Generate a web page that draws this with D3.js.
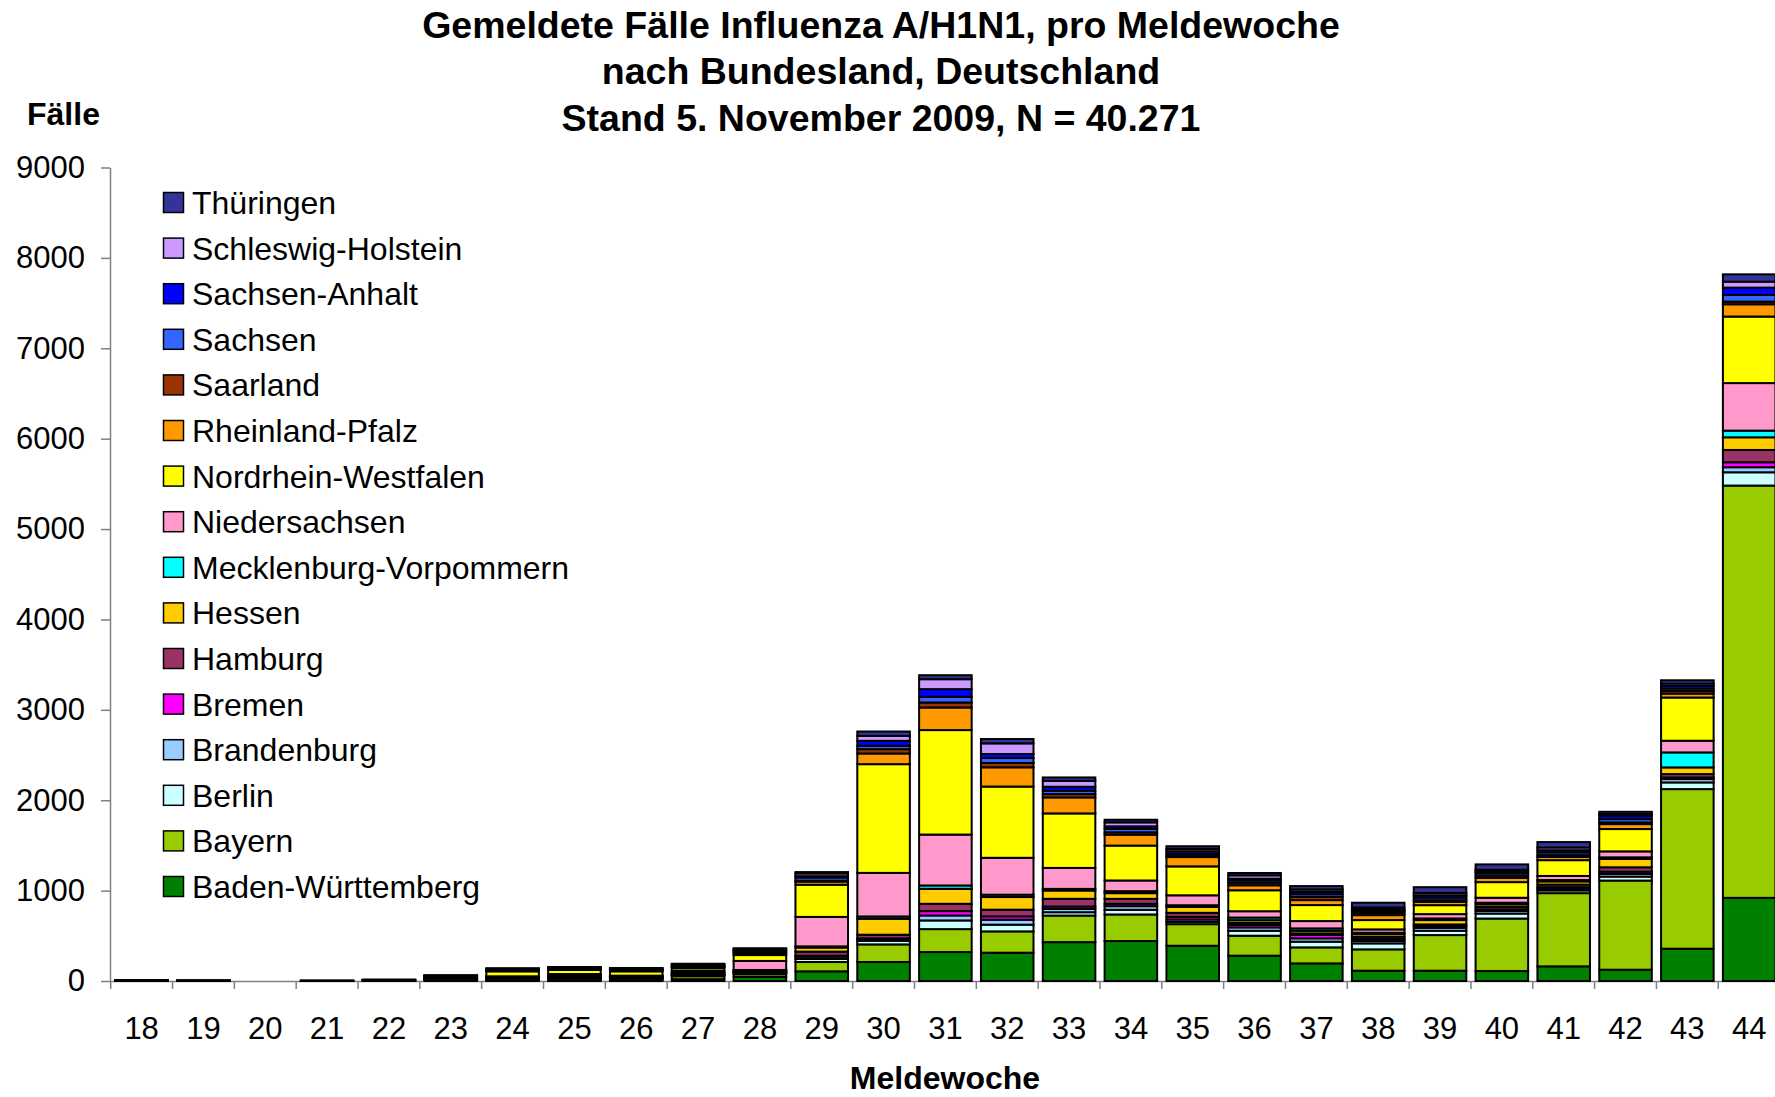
<!DOCTYPE html>
<html><head><meta charset="utf-8">
<script src="https://cdn.jsdelivr.net/npm/d3@7"></script>
<style>
body{margin:0;background:#fff;overflow:hidden}
svg{display:block}
text{font-family:"Liberation Sans",Arial,Helvetica,sans-serif;fill:#000}
</style>
</head><body>
<svg id="chart" width="1775" height="1097"></svg>
<script>
// ---- Data ----
const weeks = [18,19,20,21,22,23,24,25,26,27,28,29,30,31,32,33,34,35,36,37,38,39,40,41,42,43,44];
const states = ["Baden-Württemberg","Bayern","Berlin","Brandenburg","Bremen","Hamburg","Hessen",
  "Mecklenburg-Vorpommern","Niedersachsen","Nordrhein-Westfalen","Rheinland-Pfalz","Saarland",
  "Sachsen","Sachsen-Anhalt","Schleswig-Holstein","Thüringen"];
const colors = ["#008000","#99CC00","#CCFFFF","#99CCFF","#FF00FF","#993366","#FFCC00",
  "#00FFFF","#FF99CC","#FFFF00","#FF9900","#993300","#3366FF","#0000FF","#CC99FF","#333399"];

const badenWuerttemberg = [2,0,0,0,3,8,10,15,12,20,45,107,210,320,313,430,442,390,280,195,114,114,110,162,125,357,920];
const bayern            = [3,2,0,2,3,8,10,15,12,33,30,103,195,254,236,294,294,239,221,177,236,394,581,810,986,1766,4561];
const berlin            = [1,1,0,0,2,6,8,10,8,10,12,35,40,96,74,37,52,26,55,63,66,48,55,30,44,74,147];
const brandenburg       = [0,0,0,0,0,2,3,5,4,6,8,25,20,55,55,37,40,26,37,37,26,33,29,20,29,37,56];
const bremen            = [0,0,0,0,0,1,2,2,2,2,3,10,7,48,37,26,26,29,29,37,22,22,18,15,26,18,55];
const hamburg           = [1,1,0,0,2,6,8,10,8,10,12,45,40,81,74,85,55,44,22,18,26,15,26,30,48,37,136];
const hessen            = [1,1,0,1,2,6,5,10,6,12,9,45,177,166,140,92,63,66,29,29,29,48,29,35,92,74,140];
const mecklenburgVp     = [0,0,0,0,0,1,1,2,1,2,3,13,25,37,26,18,22,18,29,26,15,18,18,15,18,166,74];
const niedersachsen     = [1,0,0,0,0,4,5,8,6,20,100,326,482,563,408,232,118,110,70,81,37,48,55,45,66,129,526];
const nordrheinWf       = [2,2,0,2,4,10,55,45,48,28,65,356,1203,1156,788,603,386,320,232,177,103,99,173,175,247,478,736];
const rheinlandPfalz    = [0,0,0,0,0,4,10,12,12,14,22,35,118,250,213,177,121,103,55,55,55,37,48,35,55,44,136];
const saarland          = [0,0,0,0,0,1,2,2,2,3,6,10,48,55,48,37,26,18,29,37,26,18,26,20,18,29,29];
const sachsen           = [0,0,0,0,0,2,8,8,8,10,18,35,37,63,55,37,37,18,26,29,22,29,26,30,37,26,74];
const sachsenAnhalt     = [0,0,0,0,0,1,3,3,4,5,7,15,55,85,44,44,29,29,18,26,15,26,22,25,37,29,81];
const schleswigHolstein = [0,0,0,0,0,2,8,6,8,12,16,30,55,110,118,66,44,26,37,26,22,26,15,30,18,26,66];
const thueringen        = [0,0,0,0,0,0,2,2,3,4,6,15,48,44,48,37,29,29,26,37,52,63,59,60,26,37,81];

const seriesValues = [badenWuerttemberg,bayern,berlin,brandenburg,bremen,hamburg,hessen,
  mecklenburgVp,niedersachsen,nordrheinWf,rheinlandPfalz,saarland,sachsen,sachsenAnhalt,
  schleswigHolstein,thueringen];

const yTicks = [0,1000,2000,3000,4000,5000,6000,7000,8000,9000];
const titleLines = ["Gemeldete Fälle Influenza A/H1N1, pro Meldewoche",
                    "nach Bundesland, Deutschland",
                    "Stand 5. November 2009, N = 40.271"];
const yLabel = "Fälle";
const xLabel = "Meldewoche";

// ---- Build table ----
const table = weeks.map((w,i)=>{
  const row = {week:w};
  states.forEach((s,j)=>{ row[s] = seriesValues[j][i]; });
  return row;
});

const svg = d3.select("#chart");
const axisColor = "#808080";

const x = d3.scaleBand().domain(weeks).range([110.7, 1780.1]).paddingInner(0.15).paddingOuter(0.075);
const y = d3.scaleLinear().domain([0,9000]).range([981,167.5]);

const stack = d3.stack().keys(states);
const layers = stack(table);

// ---- Axes ----
const yAxis = svg.append("g").attr("transform","translate(110,0)")
  .call(d3.axisLeft(y).tickValues(yTicks).tickFormat(d3.format("d")).tickSize(9).tickSizeOuter(0).tickPadding(16));
yAxis.select(".domain").attr("stroke",axisColor).attr("stroke-width",1.5);
yAxis.selectAll(".tick line").attr("stroke",axisColor).attr("stroke-width",1.5);
yAxis.selectAll(".tick text").attr("font-size",31).attr("font-family","Liberation Sans, Arial, sans-serif").attr("fill","#000");

const xAxis = svg.append("g").attr("transform","translate(0,981)")
  .call(d3.axisBottom(x).tickSize(0).tickSizeOuter(0));
xAxis.select(".domain").attr("stroke",axisColor).attr("stroke-width",1.5);
xAxis.selectAll(".tick text").attr("font-size",31).attr("font-family","Liberation Sans, Arial, sans-serif")
  .attr("fill","#000").attr("y",58).attr("dy",0);
const half = (x.step()-x.bandwidth())/2;
svg.append("g").selectAll("line").data(weeks).join("line")
  .attr("x1",d=>x(d)-half).attr("x2",d=>x(d)-half)
  .attr("y1",981).attr("y2",989)
  .attr("stroke",axisColor).attr("stroke-width",1.5);

// ---- Bars ----
const barG = svg.append("g");
layers.forEach((layer,j)=>{
  barG.append("g").attr("fill",colors[j])
    .selectAll("rect").data(layer.filter(d=>d[1]>d[0])).join("rect")
    .attr("x",d=>x(d.data.week))
    .attr("y",d=>y(d[1]))
    .attr("width",x.bandwidth())
    .attr("height",d=>y(d[0])-y(d[1]))
    .attr("stroke","#000").attr("stroke-width",2);
});

// ---- Title & labels ----
const titleY = [38,84,131];
svg.append("g").selectAll("text").data(titleLines).join("text")
  .attr("x",881).attr("y",(d,i)=>titleY[i])
  .attr("text-anchor","middle").attr("font-weight","bold").attr("font-size",37.5)
  .text(d=>d);

svg.append("text").attr("x",27).attr("y",125).attr("font-weight","bold").attr("font-size",32).text(yLabel);
svg.append("text").attr("x",945).attr("y",1089).attr("text-anchor","middle").attr("font-weight","bold").attr("font-size",32).text(xLabel);

// ---- Legend ----
const legendStates = states.slice().reverse();
const legendColors = colors.slice().reverse();
const lg = svg.append("g");
legendStates.forEach((s,i)=>{
  const cy = 203 + i*45.6;
  lg.append("rect").attr("x",163.5).attr("y",cy-10.5).attr("width",20).attr("height",20)
    .attr("fill",legendColors[i]).attr("stroke","#000").attr("stroke-width",1.5);
  lg.append("text").attr("x",192).attr("y",cy+11).attr("font-size",32).text(s);
});
</script>
</body></html>
